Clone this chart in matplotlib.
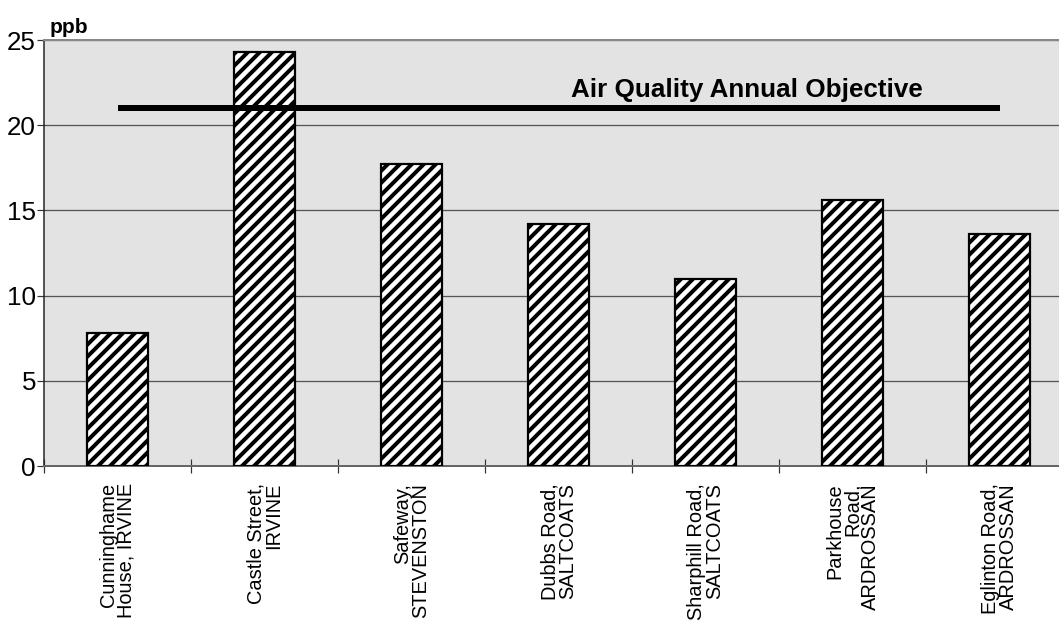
import numpy as np
import matplotlib
matplotlib.use("Agg")
import matplotlib.pyplot as plt

# Annual mean NO2 by site (ppb)
sites = ["Cunninghame\nHouse, IRVINE", "Castle Street,\nIRVINE", "Safeway,\nSTEVENSTON",
         "Dubbs Road,\nSALTCOATS", "Sharphill Road,\nSALTCOATS", "Parkhouse\nRoad,\nARDROSSAN",
         "Eglinton Road,\nARDROSSAN"]
values = [7.8, 24.3, 17.7, 14.2, 10.95, 15.6, 13.6]
objective = 21
objective_label = "Air Quality Annual Objective"
yticks = [0, 5, 10, 15, 20, 25]

# at 72 dpi one point is one pixel
DPI = 72
plt.rcParams["font.family"] = ["Liberation Sans", "DejaVu Sans"]
plt.rcParams["hatch.linewidth"] = 4.0
plt.rcParams["hatch.color"] = "black"

fig = plt.figure(figsize=(1059 / DPI, 621 / DPI), dpi=DPI)
ax = fig.add_axes([44 / 1059, 155 / 621, 1029 / 1059, 426 / 621])
ax.set_facecolor("#e3e3e3")

x = np.arange(len(sites))
ax.bar(x, values, width=0.41, color="white", edgecolor="black", linewidth=2.2,
       hatch="//", zorder=3)

ax.plot([x[0], x[-1]], [objective, objective], color="black", linewidth=6,
        solid_capstyle="butt", zorder=4)
ax.text(4.28, 21.65, objective_label, fontsize=26, fontweight="bold",
        ha="center", va="baseline", zorder=5)

ax.set_xlim(-0.5, len(sites) - 0.5)
ax.set_ylim(0, 25)
ax.set_yticks(yticks)
ax.set_yticklabels([str(v) for v in yticks], fontsize=26)
ax.tick_params(axis="y", direction="out", length=7, width=1.2, color="#333333", pad=1)
ax.yaxis.grid(True, color="#555555", linewidth=1.3, zorder=1)
ax.set_axisbelow(True)

ax.set_xticks(x)
ax.set_xticklabels(sites, rotation=90, fontsize=20, linespacing=0.9,
                   ha="center", va="top", multialignment="right")
ax.tick_params(axis="x", length=0, pad=17)
ax.set_xticks(np.arange(len(sites)) - 0.5, minor=True)
ax.tick_params(axis="x", which="minor", direction="inout", length=14,
               width=1.2, color="#333333")

ax.spines["left"].set_color("#222222")
ax.spines["left"].set_linewidth(1.5)
ax.spines["bottom"].set_color("#666666")
ax.spines["bottom"].set_linewidth(2)
ax.spines["top"].set_color("#888888")
ax.spines["top"].set_linewidth(2)
ax.spines["right"].set_visible(False)

fig.text(50 / 1059, 1 - 33 / 621, "ppb", fontsize=21, fontweight="bold",
         ha="left", va="baseline")

fig.savefig("out.png", dpi=DPI, facecolor="white")
